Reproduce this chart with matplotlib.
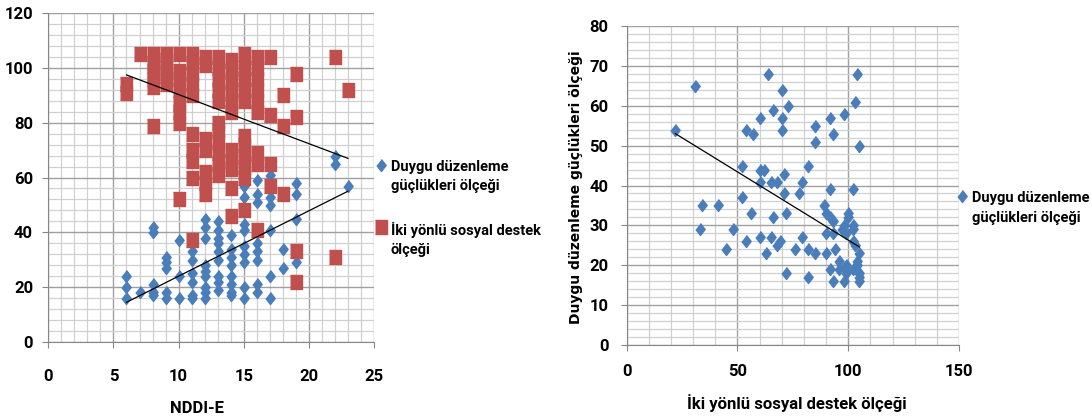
import matplotlib
matplotlib.use('Agg')
import matplotlib.pyplot as plt
from matplotlib.ticker import MultipleLocator

plt.rcParams['font.family'] = ['Roboto', 'DejaVu Sans']
plt.rcParams['font.weight'] = 'bold'

# --- left chart: NDDI-E vs both scales ---
nddi_blue = [6, 6, 6, 7, 8, 8, 8, 8, 8, 9, 9, 9, 9, 9, 10, 10, 10,
             11, 11, 11, 11, 11, 11,
             12, 12, 12, 12, 12, 12, 12, 12, 12,
             13, 13, 13, 13, 13, 13, 13, 13, 13,
             14, 14, 14, 14, 14, 14, 14, 14,
             15, 15, 15, 15, 15, 15, 15, 15, 15,
             16, 16, 16, 16, 16, 16, 16, 16,
             17, 17, 17, 17, 17, 17, 17, 18, 18, 19, 19, 19, 19, 22, 22, 23]
duygu_left = [24, 20, 16, 18, 40, 42, 21, 17, 18, 27, 29, 31, 18, 16, 37, 24, 16,
              30, 33, 22, 25, 17, 16,
              42, 45, 38, 24, 26, 28, 16, 18, 20,
              41, 44, 30, 33, 36, 38, 19, 22, 24,
              39, 28, 31, 34, 18, 21, 24, 17,
              53, 57, 41, 43, 29, 32, 35, 20, 16,
              54, 59, 51, 30, 33, 36, 18, 21,
              50, 53, 58, 61, 41, 24, 16, 34, 27, 54, 58, 45, 29, 65, 68, 57]

nddi_red = [6, 6, 7, 8, 8, 8, 8, 8, 8, 9, 9, 9, 9, 9,
            10, 10, 10, 10, 10, 10, 10, 10,
            11, 11, 11, 11, 11, 11, 11, 11, 11, 11,
            12, 12, 12, 12, 12, 12, 12,
            13, 13, 13, 13, 13, 13, 13, 13, 13, 13, 13,
            14, 14, 14, 14, 14, 14, 14, 14, 14, 14, 14,
            15, 15, 15, 15, 15, 15, 15, 15, 15, 15, 15,
            16, 16, 16, 16, 16, 16, 16, 16, 16,
            17, 17, 17, 17, 18, 18, 18, 19, 19, 19, 19, 22, 22, 23]
destek_left = [91, 94, 105, 93, 96, 99, 102, 105, 79, 94, 97, 100, 103, 105,
               105, 92, 96, 99, 80, 84, 87, 52,
               90, 94, 98, 102, 105, 76, 66, 70, 60, 37,
               101, 104, 70, 74, 54, 58, 62,
               88, 92, 96, 100, 104, 61, 65, 69, 73, 77, 80,
               84, 87, 91, 95, 99, 103, 63, 66, 70, 56, 46,
               88, 92, 96, 100, 105, 64, 68, 72, 75, 60, 48,
               96, 100, 104, 84, 88, 92, 65, 69, 41,
               104, 83, 65, 57, 90, 79, 54, 98, 82, 33, 22, 104, 31, 92]

trend_blue_x = [6, 23]
trend_blue_y = [14.4, 55]
trend_red_x = [6, 23]
trend_red_y = [97.5, 67]

# --- right chart: sosyal destek vs duygu ---
destek_right = [22, 31, 33, 34, 41, 45, 48, 52, 52, 54, 54, 56, 57, 60, 60, 60, 60,
                62, 63, 64, 65, 65, 66, 66, 68, 68, 69, 70, 70, 70, 71, 71, 72, 72,
                73, 76, 78, 79, 79, 82, 82, 82, 85, 85, 85, 89, 90, 90, 90,
                92, 92, 92, 92, 93, 93, 93, 93, 94, 96, 96, 97, 98, 98, 98,
                99, 99, 99, 99, 100, 100, 102, 102, 102, 102, 102, 103, 103,
                104, 104, 104, 105, 105, 105, 105, 105]
duygu_right = [54, 65, 29, 35, 35, 24, 29, 45, 37, 54, 26, 33, 53, 57, 44, 41, 27,
               44, 23, 68, 41, 27, 59, 32, 41, 25, 26, 64, 57, 54, 43, 38, 33, 18,
               60, 24, 38, 41, 27, 45, 24, 17, 55, 51, 23, 35, 33, 28, 23,
               57, 39, 32, 19, 53, 31, 28, 16, 24, 21, 19, 29, 58, 30, 16,
               28, 20, 19, 18, 33, 32, 39, 30, 29, 26, 19, 61, 25,
               68, 21, 20, 50, 23, 18, 17, 16]

trend_right_x = [22, 105]
trend_right_y = [53, 24.6]

labels_blue = 'Duygu düzenleme\ngüçlükleri ölçeği'
labels_red = 'İki yönlü sosyal destek\nölçeği'

blue = '#4A7EBB'
red = '#C0504D'
diamond = [(0, 1), (0.78, 0), (0, -1), (-0.78, 0)]
square = [(-0.85, -1), (0.85, -1), (0.85, 1), (-0.85, 1)]


def style_axes(ax, xmaj, xmin, ymaj, ymin):
    ax.xaxis.set_major_locator(MultipleLocator(xmaj))
    ax.xaxis.set_minor_locator(MultipleLocator(xmin))
    ax.yaxis.set_major_locator(MultipleLocator(ymaj))
    ax.yaxis.set_minor_locator(MultipleLocator(ymin))
    ax.grid(which='minor', color='#D0D0D0', lw=0.9)
    ax.grid(which='major', color='#A0A0A0', lw=1.0)
    ax.set_axisbelow(True)
    for s in ['top', 'right']:
        ax.spines[s].set_visible(False)
    for s in ['left', 'bottom']:
        ax.spines[s].set_color('#868686')
    ax.tick_params(which='minor', length=0)
    ax.tick_params(which='major', length=4, color='#868686', width=0.8,
                   labelsize=12)
    for t in ax.get_xticklabels() + ax.get_yticklabels():
        t.set_fontweight('bold')


def add_legend(ax, anchor, spacing):
    leg = fig.legend(*ax.get_legend_handles_labels(), loc='upper left',
                     bbox_to_anchor=anchor, frameon=False,
                     prop={'size': 10.5, 'weight': 'bold'},
                     handlelength=0.9, handletextpad=0.25, borderpad=0,
                     borderaxespad=0, labelspacing=spacing)
    for t in leg.get_texts():
        t.set_linespacing(1.5)
    # put the marker next to the first line, like Excel does
    for col in leg._legend_handle_box.get_children():
        for row in col.get_children():
            row.align = 'top'
    return leg


fig = plt.figure(figsize=(10.91, 4.18), dpi=100)

ax1 = fig.add_axes([0.0443, 0.1825, 0.2985, 0.7856])
ax1.plot(nddi_blue, duygu_left, ls='none', marker=diamond, ms=8.6,
         color=blue, label=labels_blue)
ax1.plot(nddi_red, destek_left, ls='none', marker=square, ms=9.4,
         color=red, label=labels_red)
ax1.plot(trend_red_x, trend_red_y, color='black', lw=0.9)
ax1.plot(trend_blue_x, trend_blue_y, color='black', lw=0.9)
ax1.set_xlim(0, 25)
ax1.set_ylim(0, 120)
style_axes(ax1, 5, 1, 20, 4)
ax1.tick_params(axis='x', pad=16)
ax1.tick_params(axis='y', pad=7)
ax1.set_xlabel('NDDI-E', fontsize=12, fontweight='bold')
ax1.xaxis.set_label_coords(0.4566, -0.18)
add_legend(ax1, (0.343, 0.618), 1.95)

ax2 = fig.add_axes([0.5744, 0.1746, 0.3046, 0.7632])
ax2.plot(destek_right, duygu_right, ls='none', marker=diamond, ms=8.6,
         color=blue, label=labels_blue)
ax2.plot(trend_right_x, trend_right_y, color='black', lw=0.9)
ax2.set_xlim(0, 150)
ax2.set_ylim(0, 80)
style_axes(ax2, 50, 10, 10, 2)
ax2.tick_params(axis='x', pad=10)
ax2.tick_params(axis='y', pad=9)
ax2.set_xlabel('İki yönlü sosyal destek ölçeği', fontsize=12,
               fontweight='bold')
ax2.xaxis.set_label_coords(0.5125, -0.155)
ax2.set_ylabel('Duygu düzenleme güçlükleri ölçeği', fontsize=10,
               fontweight='bold', family=['DejaVu Sans'])
ax2.yaxis.set_label_coords(-0.13, 0.495)
add_legend(ax2, (0.876, 0.543), 0.6)

fig.savefig('out.png', dpi=100)
